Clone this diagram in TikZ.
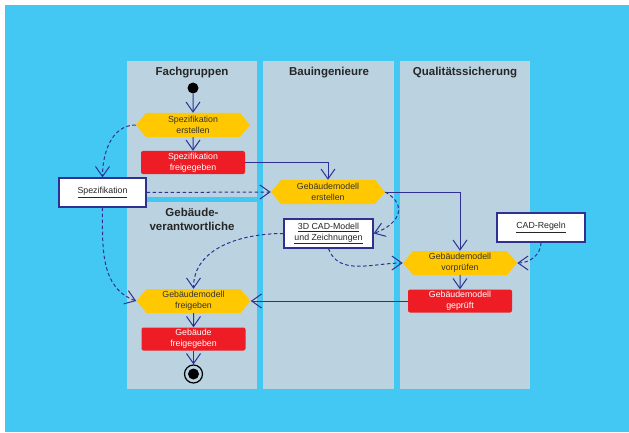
\documentclass[tikz,border=0pt]{standalone}
\usepackage{fontspec}
\setmainfont{Liberation Sans}
\usetikzlibrary{arrows.meta,shapes.symbols}

\definecolor{hintergrund}{HTML}{43C8F4}
\definecolor{bahn}{HTML}{BBD3E1}
\definecolor{gelb}{HTML}{FFC800}
\definecolor{rot}{HTML}{EE1D25}
\definecolor{linie}{HTML}{2E3192}

\begin{document}
\begin{tikzpicture}[x=1pt, y=-1pt,
    aktion/.style={shape=signal, signal to=west and east, signal pointer angle=100,
      fill=gelb, minimum width=114pt, minimum height=24pt, inner sep=0pt,
      font=\fontsize{8.8}{11}\selectfont, text=black!80, align=center},
    zustand/.style={rectangle, rounded corners=2pt, fill=rot, minimum width=104pt,
      minimum height=23pt, inner sep=0pt, font=\fontsize{8.8}{11}\selectfont,
      text=white, align=center},
    objekt/.style={rectangle, draw=linie, line width=1.3pt, fill=white,
      minimum width=87pt, minimum height=29pt, inner sep=0pt,
      font=\fontsize{8.8}{11}\selectfont, text=black!85, align=center},
    titel/.style={font=\bfseries\fontsize{11.5}{13.5}\selectfont, text=black!85, align=center},
    fluss/.style={draw=linie, line width=1pt, -{Straight Barb[length=10pt,width=14pt]}},
    objfluss/.style={fluss, dash pattern=on 3.5pt off 2.5pt},
  ]
    % Hintergrund und Bahnen
    \useasboundingbox (0,0) rectangle (629,433);
    \fill[hintergrund] (5,5) rectangle (629,432);
    \fill[bahn] (127,61) rectangle (257,197);
    \fill[bahn] (127,202) rectangle (257,389);
    \fill[bahn] (263,61) rectangle (394,389);
    \fill[bahn] (400,61) rectangle (530,389);

    % Titel
    \node[titel] (tFach) at (192,73) {Fachgruppen};
    \node[titel] (tBau) at (329,73) {Bauingenieure};
    \node[titel] (tQual) at (465,73) {Qualitätssicherung};
    \node[titel] (tGeb) at (192,219.5) {Gebäude-\\verantwortliche};

    % Knoten
    \node[circle, fill=black, minimum size=11pt, inner sep=0pt] (start) at (193,88) {};
    \node[aktion] (sE) at (193,125) {Spezifikation\\erstellen};
    \node[zustand] (sF) at (193,162.5) {Spezifikation\\freigegeben};
    \node[aktion] (gE) at (328,192) {Gebäudemodell\\erstellen};
    \node[objekt] (spez) at (102.5,192.5) {\underline{Spezifikation}};
    \node[objekt, minimum width=89pt] (cad) at (328.5,233.5)
      {\underline{3D CAD-Modell}\\\underline{und Zeichnungen}};
    \node[objekt, minimum width=88pt] (regeln) at (541,227.5) {\underline{CAD-Regeln}};
    \node[aktion] (gV) at (460,263) {Gebäudemodell\\vorprüfen};
    \node[zustand] (gP) at (460,301) {Gebäudemodell\\geprüft};
    \node[aktion] (gF) at (193.5,301) {Gebäudemodell\\freigeben};
    \node[zustand] (gbF) at (193.5,339) {Gebäude\\freigegeben};
    \node[circle, draw=black, line width=1.2pt, minimum size=18pt, inner sep=0pt] (ende) at (193.5,374) {};
    \fill[black] (ende.center) circle (5.5pt);

    % Kontrollfluss
    \draw[fluss] (start) -- (sE);
    \draw[fluss] (sE) -- (sF);
    \draw[fluss] (sF.east) -| (gE.north);
    \draw[fluss] (gE.east) -| (gV.north);
    \draw[fluss] (gV) -- (gP);
    \draw[fluss] (gP.west) -- (gF.east);
    \draw[fluss] (gF) -- (gbF);
    \draw[fluss] (gbF) -- (ende);

    % Objektfluss
    \draw[objfluss] (sE.west) to[out=180, in=90] (spez.north);
    \draw[objfluss] (spez.east) -- (gE.west);
    \draw[objfluss] (spez.south) to[out=-90, in=160] (gF.west);
    \draw[objfluss] (gE.east) to[out=-30, in=20, looseness=1.6] (cad.east);
    \draw[objfluss] (cad.west) to[out=180, in=90] (gF.north);
    \draw[objfluss] (cad.south) to[out=-70, in=180] (gV.west);
    \draw[objfluss] (regeln.south) to[out=-90, in=0] (gV.east);
\end{tikzpicture}
\end{document}
